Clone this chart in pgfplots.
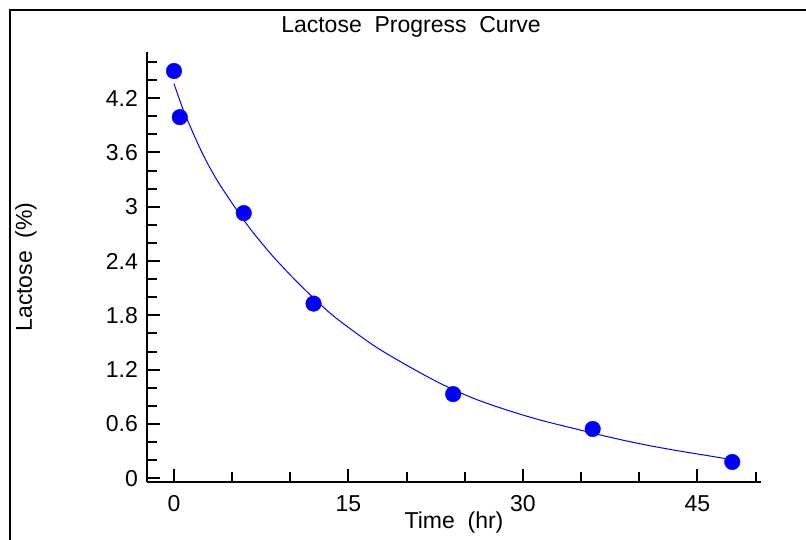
\documentclass[border=0pt]{standalone}
\usepackage{fontspec}
\setmainfont{Liberation Sans}
\usepackage{pgfplots}
\pgfplotsset{compat=1.18}
\newcommand{\fs}{\fontsize{23}{28}\selectfont}
\begin{document}
\begin{tikzpicture}
\draw[line width=2pt] (10pt,-30pt) rectangle (812pt,530pt);
\node[font=\fs, anchor=base] at (411pt,507pt) {Lactose\ \ Progress\ \ Curve};
\begin{axis}[
  at={(147pt,58pt)}, anchor=south west,
  scale only axis, width=614pt, height=430pt,
  xmin=-2.32, xmax=50.47, ymin=-0.041, ymax=4.71,
  axis x line*=bottom, axis y line*=left,
  axis line style={line width=2pt, black},
  xtick={0,15,30,45}, minor xtick={5,10,20,25,35,40,50},
  ytick={0,0.6,1.2,1.8,2.4,3,3.6,4.2},
  yticklabels={0,0.6,1.2,1.8,2.4,3,3.6,4.2},
  minor ytick={0.2,0.4,0.8,1.0,1.4,1.6,2.0,2.2,2.6,2.8,3.2,3.4,3.8,4.0,4.4,4.6},
  tick align=inside,
  major tick length=13pt, minor tick length=10pt,
  major tick style={line width=2pt, black},
  minor tick style={line width=2pt, black},
  /pgf/number format/assume math mode=true,
  ticklabel style={font=\fs},
  yticklabel style={anchor=east, inner sep=0pt, xshift=-9pt},
  xticklabel style={anchor=north, inner sep=0pt, yshift=-13pt},
  xlabel={Time\ \ (hr)}, ylabel={Lactose\ \ (\%)},
  label style={font=\fs},
  xlabel style={at={(axis description cs:0.5,-0.107)}, anchor=base, inner sep=0pt},
  ylabel style={at={(axis description cs:-0.1873,0.5)}, anchor=base, inner sep=0pt},
  clip=false,
]
\addplot[blue, line width=1pt, smooth, no markers] coordinates {
  (0,4.36) (0.8,4.07) (1.66,3.81) (2.52,3.57) (3.67,3.30) (5.1,3.02)
  (6.53,2.76) (8.25,2.49) (9.97,2.25) (11.69,2.03) (13.84,1.78)
  (17.14,1.47) (20.0,1.25) (22.87,1.05) (25.74,0.884) (28.6,0.755)
  (31.47,0.644) (34.33,0.552) (37.2,0.462) (40.07,0.381) (42.93,0.313)
  (45.8,0.252) (48,0.205)
};
\addplot[only marks, mark=*, mark size=7.8pt, blue, mark options={fill=blue, draw=blue}] coordinates {
  (0,4.50) (0.5,3.99) (6,2.93) (12,1.93) (24,0.93) (36,0.545) (48,0.18)
};
\end{axis}
\pgfresetboundingbox
\useasboundingbox (0,0) rectangle (806pt,540pt);
\end{tikzpicture}
\end{document}
